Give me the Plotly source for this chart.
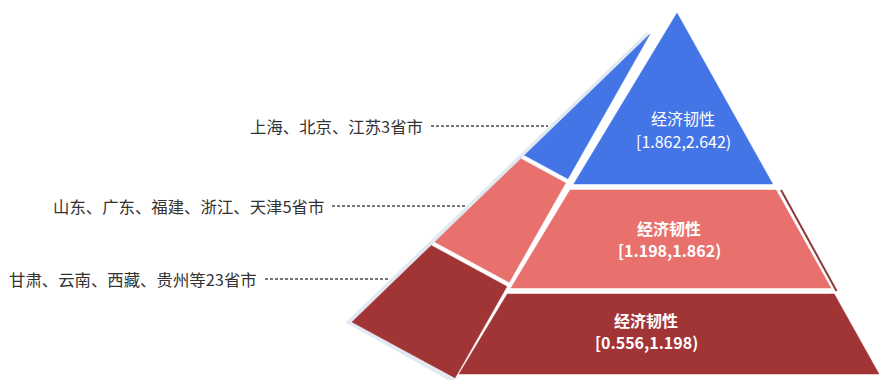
import plotly.graph_objects as go

# ---- data ----
levels = ["[1.862,2.642)", "[1.198,1.862)", "[0.556,1.198)"]
level_title = "经济韧性"
groups = ["上海、北京、江苏3省市", "山东、广东、福建、浙江、天津5省市", "甘肃、云南、西藏、贵州等23省市"]
colors = ["#4475E6", "#E8706D", "#A13434"]
text_bold = [False, True, True]

# ---- geometry (pixel space, y grows downward) ----
W, H = 881, 380
FONT = "Noto Sans CJK SC"

# front face of the pyramid
apex = (677, 13)
base_l = (459, 374)
base_r = (879, 374)
front_bands = [(13, 184), (190, 288), (294, 374)]

# left side face
s_apex = (650, 34)
s_left = (352, 322)
s_right = (455, 378)
side_bands = [(0.0, 0.421), (0.433, 0.722), (0.734, 1.0)]

# label anchors inside each band and for the group labels
band_text_xy = [(683, 118, 141), (669, 228, 250), (646, 320, 342)]
group_y = [126, 206, 279]
group_text_right = [425, 326, 259]
leader_end = [548, 467, 390]


def lerp(p, q, t):
    return (p[0] + (q[0] - p[0]) * t, p[1] + (q[1] - p[1]) * t)


def edge_x(p, q, y):
    t = (y - p[1]) / (q[1] - p[1])
    return p[0] + (q[0] - p[0]) * t


fig = go.Figure()

# soft halo along the outer edges of the side face
halo = [(s_apex[0] - 2, s_apex[1]), (s_left[0] - 3, s_left[1]), (s_right[0] - 1, s_right[1] + 3)]
fig.add_trace(go.Scatter(
    x=[p[0] for p in halo], y=[p[1] for p in halo], mode="lines",
    line=dict(color="rgba(222,231,241,0.9)", width=4), hoverinfo="skip", showlegend=False))

# side face bands
for i, (t0, t1) in enumerate(side_bands):
    pts = [lerp(s_apex, s_left, t0), lerp(s_apex, s_right, t0),
           lerp(s_apex, s_right, t1), lerp(s_apex, s_left, t1)]
    fig.add_trace(go.Scatter(
        x=[p[0] for p in pts] + [pts[0][0]], y=[p[1] for p in pts] + [pts[0][1]],
        mode="lines", fill="toself", fillcolor=colors[i],
        line=dict(color=colors[i], width=0.5), hoverinfo="skip", showlegend=False))

# front face bands
for i, (y0, y1) in enumerate(front_bands):
    xl0, xr0 = edge_x(apex, base_l, y0), edge_x(apex, base_r, y0)
    xl1, xr1 = edge_x(apex, base_l, y1), edge_x(apex, base_r, y1)
    xs = [xl0, xr0, xr1, xl1, xl0]
    ys = [y0, y0, y1, y1, y0]
    fig.add_trace(go.Scatter(
        x=xs, y=ys, mode="lines", fill="toself", fillcolor=colors[i],
        line=dict(color=colors[i], width=0.5), hoverinfo="skip", showlegend=False,
        name=levels[i]))

# thin dark rim along the right edge of the middle band
y0, y1 = front_bands[1]
fig.add_trace(go.Scatter(
    x=[edge_x(apex, base_r, y0) + 5, edge_x(apex, base_r, y1 + 3) + 4],
    y=[y0, y1 + 3], mode="lines", line=dict(color="#8C3A3A", width=2),
    hoverinfo="skip", showlegend=False))

# dotted leader lines
for i, g in enumerate(groups):
    fig.add_trace(go.Scatter(
        x=[group_text_right[i] + 6, leader_end[i]], y=[group_y[i], group_y[i]],
        mode="lines", line=dict(color="#4a4a4a", width=1.5, dash="3px,2px"),
        hoverinfo="skip", showlegend=False))

annotations = []
for i, g in enumerate(groups):
    annotations.append(dict(
        x=group_text_right[i], y=group_y[i], xref="x", yref="y", text=g,
        showarrow=False, xanchor="right", yanchor="middle",
        font=dict(family=FONT, size=16.4, color="#333333")))

for i, lv in enumerate(levels):
    cx, ty, ry = band_text_xy[i]
    t1 = f"<b>{level_title}</b>" if text_bold[i] else level_title
    t2 = f"<b>{lv}</b>" if text_bold[i] else lv
    for txt, yy in ((t1, ty), (t2, ry)):
        annotations.append(dict(
            x=cx, y=yy, xref="x", yref="y", text=txt, showarrow=False,
            xanchor="center", yanchor="middle",
            font=dict(family=FONT, size=16, color="#FFFFFF")))

fig.update_layout(
    width=W, height=H, margin=dict(l=0, r=0, t=0, b=0),
    paper_bgcolor="white", plot_bgcolor="white",
    xaxis=dict(range=[0, W], visible=False, fixedrange=True),
    yaxis=dict(range=[H, 0], visible=False, fixedrange=True),
    annotations=annotations, showlegend=False)

fig.write_html("out.html", config={"displayModeBar": False})
